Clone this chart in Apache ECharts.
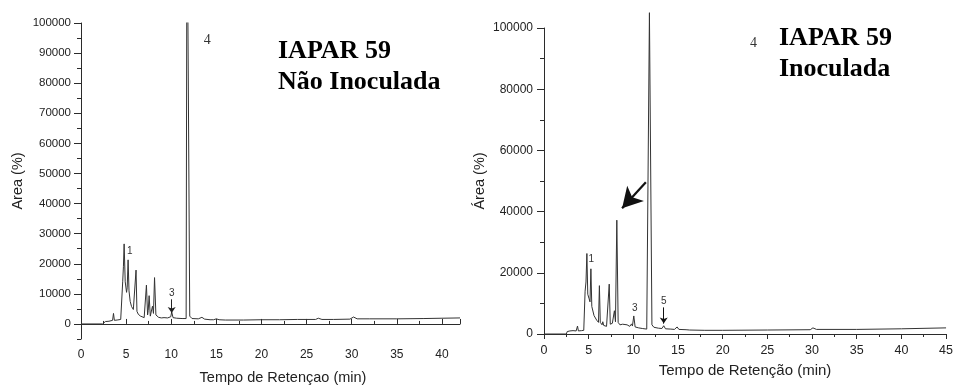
<!DOCTYPE html>
<html>
<head>
<meta charset="utf-8">
<script src="https://cdn.jsdelivr.net/npm/echarts@6/dist/echarts.min.js"></script>
<style>html,body{margin:0;padding:0;background:#fff}#c{width:956px;height:390px}</style>
</head>
<body>
<div id="c"></div>
<script>
// ---- Left chromatogram (IAPAR 59 Não Inoculada)
const leftTime = [0, 2.4, 2.5, 2.7, 2.9, 3.1, 3.3, 3.5, 3.6, 3.7, 4.0, 4.4, 4.55, 4.62, 4.7, 4.78, 4.9, 5.05, 5.12, 5.22, 5.32, 5.45, 5.6, 5.8, 6.0, 6.1, 6.2, 6.35, 6.6, 7.0, 7.15, 7.25, 7.38, 7.45, 7.55, 7.68, 7.8, 7.92, 8.03, 8.15, 8.3, 8.6, 8.9, 9.0, 9.2, 9.6, 9.95, 10.05, 10.2, 10.6, 11.2, 11.65, 11.75, 11.95, 12.05, 12.3, 13.0, 13.4, 13.7, 14.3, 14.5, 14.7, 15.0, 15.3, 16.0, 18, 20, 22, 24, 26.0, 26.3, 26.7, 28, 29.8, 30.2, 30.6, 32, 35, 38, 40, 42];
const leftArea = [0, 0, 600, 800, 700, 900, 800, 1200, 3500, 1200, 1300, 1500, 1800, 14000, 19000, 26600, 14000, 10500, 12000, 21300, 11000, 7500, 5800, 4800, 4300, 17900, 4200, 3200, 2600, 2100, 2500, 12900, 3000, 4500, 9400, 2600, 3000, 5900, 3500, 15400, 3000, 2200, 2000, 2500, 2100, 2000, 2400, 4000, 2100, 1900, 1800, 1800, 150000, 150000, 2600, 1800, 1700, 2200, 1600, 1400, 1700, 1400, 1700, 1400, 1300, 1300, 1400, 1400, 1500, 1500, 1900, 1500, 1500, 1600, 2300, 1700, 1700, 1700, 1800, 1900, 2000];

// ---- Right chromatogram (IAPAR 59 Inoculada)
const rightTime = [0, 2.5, 2.6, 2.75, 2.9, 3.05, 3.25, 3.4, 3.6, 3.75, 3.85, 4.2, 4.45, 4.6, 4.7, 4.8, 4.9, 5.05, 5.15, 5.25, 5.35, 5.6, 5.9, 6.1, 6.2, 6.3, 6.5, 6.58, 6.68, 7.0, 7.2, 7.3, 7.42, 7.55, 7.65, 7.75, 7.88, 8.0, 8.15, 8.3, 8.5, 8.8, 9.0, 9.3, 9.6, 9.8, 9.9, 10.05, 10.2, 10.6, 11.0, 11.5, 11.72, 11.8, 11.98, 12.08, 12.3, 12.8, 13.2, 13.4, 13.6, 14.2, 14.4, 14.6, 14.9, 15.1, 15.9, 16.1, 16.3, 18, 20, 25, 29.8, 30.1, 30.5, 35, 40, 45];
const rightArea = [0, 0, 800, 300, 1000, 400, 1100, 600, 1000, 2600, 1000, 1100, 1200, 14000, 17000, 26300, 13000, 11500, 10500, 21300, 9000, 6000, 4500, 3800, 15800, 3800, 3000, 4000, 2800, 2500, 2600, 16300, 3200, 2800, 3500, 3000, 7600, 4000, 37200, 3800, 3000, 3200, 2700, 3000, 2500, 3300, 2600, 5900, 2300, 2000, 1800, 1600, 1700, 105000, 105000, 3000, 2200, 1900, 1800, 2700, 1700, 1600, 2200, 1500, 2300, 1500, 1400, 1900, 1300, 1200, 1200, 1300, 1400, 2000, 1500, 1500, 1700, 2000];

// ---- Axis ticks
const leftYTicks = [0, 10000, 20000, 30000, 40000, 50000, 60000, 70000, 80000, 90000, 100000];
const leftXMax = 42;
const rightXMax = 45;

// ---- Texts
const leftTitle = 'IAPAR 59\nNão Inoculada';
const rightTitle = 'IAPAR 59\nInoculada';
const leftXName = 'Tempo de Retençao (min)';
const rightXName = 'Tempo de Retenção (min)';
const leftYName = 'Area (%)';
const rightYName = 'Área (%)';

const ink = '#2b2b2b';
const plain = v => String(v);
const pair = (xs, ys) => xs.map((x, i) => [x, ys[i]]);
const txt = (coord, v, font, size) => ({coord, value: v, label: {fontFamily: font, fontSize: size}});

const chart = echarts.init(document.getElementById('c'), null, {renderer: 'canvas'});
chart.setOption({
  animation: false,
  backgroundColor: '#fff',
  title: [
    {text: leftTitle, left: 273, top: 31, textStyle: {fontFamily: 'Liberation Serif', fontWeight: 'bold', fontSize: 26, lineHeight: 31, color: '#000'}},
    {text: rightTitle, left: 774, top: 18, textStyle: {fontFamily: 'Liberation Serif', fontWeight: 'bold', fontSize: 26, lineHeight: 31, color: '#000'}}
  ],
  grid: [
    {left: 81, top: 23, width: 379, height: 319, containLabel: false},
    {left: 544, top: 28, width: 407, height: 306, containLabel: false}
  ],
  xAxis: [
    {gridIndex: 0, type: 'value', min: 0, max: leftXMax, interval: 5,
     axisLine: {lineStyle: {color: ink, width: 1}},
     axisTick: {inside: true, length: 5, lineStyle: {color: ink}},
     minorTick: {show: true, splitNumber: 2, length: 3, lineStyle: {color: ink}},
     axisLabel: {margin: 10, fontFamily: 'Liberation Sans', fontSize: 12, color: '#222', showMaxLabel: false},
     splitLine: {show: false},
     name: leftXName, nameLocation: 'middle', nameGap: 31,
     nameTextStyle: {fontFamily: 'Liberation Sans', fontSize: 14.5, color: '#222', padding: [0, 0, 0, 25]}},
    {gridIndex: 1, type: 'value', min: 0, max: rightXMax, interval: 5,
     axisLine: {lineStyle: {color: ink, width: 1}},
     axisTick: {inside: false, length: 5, lineStyle: {color: ink}},
     minorTick: {show: true, splitNumber: 2, length: 3, lineStyle: {color: ink}},
     axisLabel: {margin: 10, fontFamily: 'Liberation Sans', fontSize: 12.5, color: '#222', showMaxLabel: true},
     splitLine: {show: false},
     name: rightXName, nameLocation: 'middle', nameGap: 29,
     nameTextStyle: {fontFamily: 'Liberation Sans', fontSize: 15, color: '#222'}}
  ],
  yAxis: [
    {gridIndex: 0, type: 'value', min: -5000, max: 100000, position: 'left',
     axisLine: {show: true, lineStyle: {color: ink, width: 1}},
     axisTick: {show: true, length: 7, customValues: leftYTicks, lineStyle: {color: ink}},
     axisLabel: {customValues: leftYTicks, formatter: plain, margin: 10, fontFamily: 'Liberation Sans', fontSize: 11.5, color: '#222'},
     splitLine: {show: false},
     name: leftYName, nameLocation: 'middle', nameGap: 56, nameRotate: 90,
     nameTextStyle: {fontFamily: 'Liberation Sans', fontSize: 14.5, color: '#222'}},
    {gridIndex: 0, type: 'value', min: -5000, max: 100000, interval: 5000, position: 'left', offset: 0,
     axisLine: {show: false},
     axisTick: {show: true, length: 4, lineStyle: {color: ink}},
     axisLabel: {show: false},
     splitLine: {show: false}},
    {gridIndex: 1, type: 'value', min: 0, max: 100000, interval: 20000, position: 'left',
     axisLine: {show: true, lineStyle: {color: ink, width: 1}},
     axisTick: {show: true, length: 7, lineStyle: {color: ink}},
     minorTick: {show: true, splitNumber: 2, length: 4, lineStyle: {color: ink}},
     axisLabel: {formatter: plain, margin: 11, fontFamily: 'Liberation Sans', fontSize: 12, color: '#222'},
     splitLine: {show: false},
     name: rightYName, nameLocation: 'middle', nameGap: 57, nameRotate: 90,
     nameTextStyle: {fontFamily: 'Liberation Sans', fontSize: 14.5, color: '#222'}}
  ],
  series: [
    {type: 'line', xAxisIndex: 0, yAxisIndex: 0, data: pair(leftTime, leftArea),
     showSymbol: false, symbol: 'none', clip: true,
     lineStyle: {color: '#333', width: 1},
     markPoint: {symbol: 'rect', symbolSize: 1, itemStyle: {color: 'rgba(0,0,0,0)'},
       label: {show: true, position: 'inside', color: '#333', formatter: '{c}'},
       data: [txt([5.4, 24300], '1', 'Liberation Sans', 10),
              txt([10.05, 10300], '3', 'Liberation Sans', 10),
              txt([14.0, 94400], '4', 'Liberation Serif', 14)]},
     markLine: {silent: true, symbol: ['none', 'arrow'], symbolSize: 6, label: {show: false},
       lineStyle: {color: '#222', width: 1, type: 'solid'},
       data: [[{coord: [10.05, 8200]}, {coord: [10.05, 3600]}]]}},
    {type: 'line', xAxisIndex: 1, yAxisIndex: 2, data: pair(rightTime, rightArea),
     showSymbol: false, symbol: 'none', clip: false,
     lineStyle: {color: '#333', width: 1},
     markPoint: {symbol: 'rect', symbolSize: 1, itemStyle: {color: 'rgba(0,0,0,0)'},
       label: {show: true, position: 'inside', color: '#333', formatter: '{c}'},
       data: [txt([5.3, 24500], '1', 'Liberation Sans', 10),
              txt([10.15, 8500], '3', 'Liberation Sans', 10),
              txt([13.4, 10800], '5', 'Liberation Sans', 10),
              txt([23.45, 95000], '4', 'Liberation Serif', 14)]},
     markLine: {silent: true, symbol: ['none', 'arrow'], label: {show: false},
       lineStyle: {color: '#111', width: 1, type: 'solid'},
       data: [
         [{coord: [13.4, 8700], symbolSize: 6}, {coord: [13.4, 3400], symbolSize: 6}],
         [{coord: [11.4, 49600], symbolSize: 0, lineStyle: {width: 2.2}}, {coord: [8.74, 41100], symbolSize: [17, 20], lineStyle: {width: 2.2}}]
       ]}}
  ]
});
</script>
</body>
</html>
